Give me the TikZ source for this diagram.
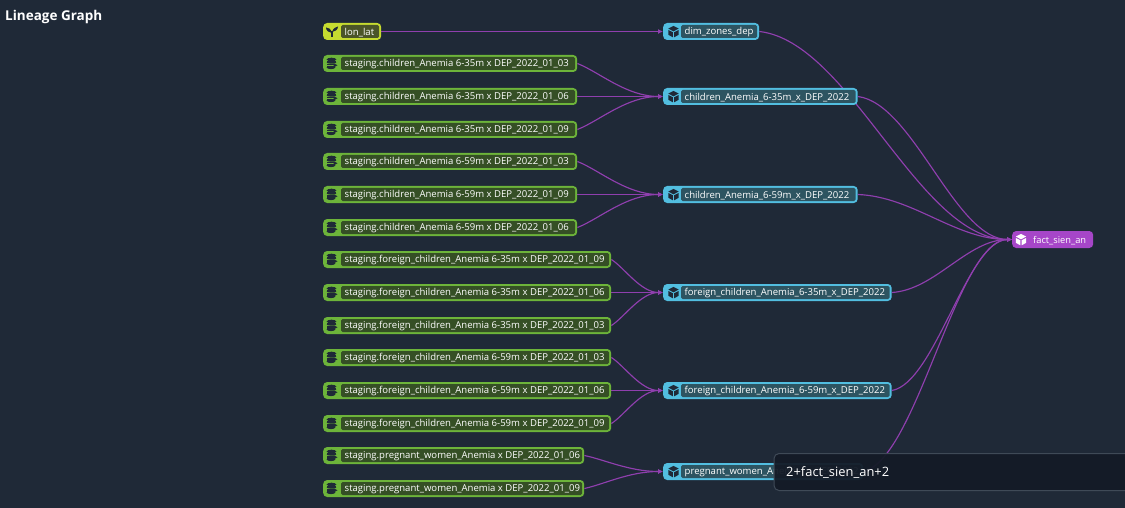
\documentclass[tikz,border=0pt]{standalone}
\usepackage{fontspec}
\setmainfont{Open Sans}
\usetikzlibrary{calc,arrows.meta}
\definecolor{bgc}{HTML}{1F2937}
\definecolor{edgec}{HTML}{8F3FAE}
\definecolor{srcf}{HTML}{6DB43A}
\definecolor{srci}{HTML}{354F25}
\definecolor{seedf}{HTML}{C6DB30}
\definecolor{seedi}{HTML}{4B5528}
\definecolor{modf}{HTML}{52BEE0}
\definecolor{modi}{HTML}{2D5461}
\definecolor{factf}{HTML}{A646C8}
\definecolor{tipf}{HTML}{141B27}
\definecolor{tipd}{HTML}{3F4A57}
\definecolor{icond}{HTML}{1F2937}
\pgfdeclarelayer{bglayer}
\pgfsetlayers{bglayer,main}
\tikzset{
  gbox/.style={rectangle,rounded corners=4pt,inner sep=0pt,minimum height=17pt,anchor=west,draw=none},
  srcbox/.style={gbox,fill=srcf},
  seedbox/.style={gbox,fill=seedf},
  modbox/.style={gbox,fill=modf},
  factbox/.style={gbox,fill=factf},
  lab/.style={rectangle,rounded corners=1.5pt,inner sep=0pt,minimum height=13pt,anchor=west},
  txt/.style={inner sep=0pt,anchor=west,text=white,font=\fontsize{9.55pt}{11pt}\selectfont},
  conn/.style={draw=edgec,line width=1.15pt,-{Latex[length=5pt,width=5pt]}},
}
% #1 name, #2 box style, #3 inner colour, #4 left, #5 width, #6 y, #7 text
\newcommand{\gnode}[7]{%
  \node[#2,minimum width=#5pt] (#1) at (#4,#6) {};
  \node[lab,fill=#3,minimum width=#5pt-20pt] (#1-l) at (#4+18,#6) {};
  \node[txt] (#1-t) at (#4+21.5,#6+0.8) {#7};
}
\newcommand{\dbicon}[2]{%
  \begin{scope}[shift={(#1,#2)},fill=icond]
    \fill (0,-4) ellipse (4.8pt and 1.8pt);
    \fill (-4.8,-2.6) rectangle (4.8,-1);
    \fill (0,-1) ellipse (4.8pt and 1.2pt);
    \fill (-4.8,0.3) rectangle (2,2);
    \fill (-4.8,2.8) rectangle (2,4);
    \fill (-0.5,4) ellipse (4.3pt and 1.6pt);
    \fill (2,-0.4) -- (6,1.8) -- (2,4) -- cycle;
  \end{scope}}
\newcommand{\cubeicon}[3]{%
  \begin{scope}[shift={(#1,#2)},fill=#3,draw=#3]
    \fill (0,-5.6) -- (5.2,-2.9) -- (0,-0.2) -- (-5.2,-2.9) -- cycle;
    \fill (-5.2,-1.6) -- (-0.6,0.8) -- (-0.6,5.8) -- (-5.2,3.3) -- cycle;
    \fill (5.2,-1.6) -- (0.6,0.8) -- (0.6,5.8) -- (5.2,3.3) -- cycle;
  \end{scope}}
\newcommand{\seedicon}[2]{%
  \begin{scope}[shift={(#1,#2)},fill=icond]
    \fill (-0.8,5.5) rectangle (0.8,0);
    \fill (0,1.5) .. controls (-1,-3) and (-4,-4) .. (-6,-4) .. controls (-6,-1) and (-3,1.5) .. (0,1.5);
    \fill (0,0.5) .. controls (1,-3) and (4,-5) .. (6,-5) .. controls (6,-2) and (3,0.5) .. (0,0.5);
  \end{scope}}
% #3,#4: first control as fractions of dx,dy from the start; #5: second control as fraction of dx back from the end
\newcommand{\link}[5]{%
  \draw[conn] let \p1=(#1.east),\p2=(#2.west),\n1={\x2-\x1},\n2={\y2-\y1} in
    (\p1) .. controls ({\x1+#3*\n1},{\y1+#4*\n2}) and ({\x2-#5*\n1},\y2) .. (\p2);
}
\newcommand{\shortlink}[2]{\link{#1}{#2}{0.25}{0.25}{0.43}}
\newcommand{\longlink}[2]{\link{#1}{#2}{0.36}{0.05}{0.37}}
\begin{document}
\begin{tikzpicture}[x=1pt,y=-1pt]
\useasboundingbox (0,0) rectangle (1125,508);
\begin{pgfonlayer}{bglayer}
  \fill[bgc] (0,0) rectangle (1125,508);
\end{pgfonlayer}
\node[inner sep=0pt,anchor=west,text=white,font=\fontsize{13.5pt}{15pt}\selectfont\bfseries] (title) at (5,16.5) {Lineage Graph};

\gnode{a0}{seedbox}{seedi}{323}{58}{31.5}{lon\_lat}
\gnode{a1}{srcbox}{srci}{323}{254}{63.5}{staging.children\_Anemia 6-35m x DEP\_2022\_01\_03}
\gnode{a2}{srcbox}{srci}{323}{254}{96.5}{staging.children\_Anemia 6-35m x DEP\_2022\_01\_06}
\gnode{a3}{srcbox}{srci}{323}{254}{129.5}{staging.children\_Anemia 6-35m x DEP\_2022\_01\_09}
\gnode{a4}{srcbox}{srci}{323}{254}{161.5}{staging.children\_Anemia 6-59m x DEP\_2022\_01\_03}
\gnode{a5}{srcbox}{srci}{323}{254}{194.5}{staging.children\_Anemia 6-59m x DEP\_2022\_01\_09}
\gnode{a6}{srcbox}{srci}{323}{254}{227.5}{staging.children\_Anemia 6-59m x DEP\_2022\_01\_06}
\gnode{a7}{srcbox}{srci}{323}{288}{259.5}{staging.foreign\_children\_Anemia 6-35m x DEP\_2022\_01\_09}
\gnode{a8}{srcbox}{srci}{323}{288}{292.5}{staging.foreign\_children\_Anemia 6-35m x DEP\_2022\_01\_06}
\gnode{a9}{srcbox}{srci}{323}{288}{325.5}{staging.foreign\_children\_Anemia 6-35m x DEP\_2022\_01\_03}
\gnode{a10}{srcbox}{srci}{323}{288}{357.5}{staging.foreign\_children\_Anemia 6-59m x DEP\_2022\_01\_03}
\gnode{a11}{srcbox}{srci}{323}{288}{390.5}{staging.foreign\_children\_Anemia 6-59m x DEP\_2022\_01\_06}
\gnode{a12}{srcbox}{srci}{323}{288}{423.5}{staging.foreign\_children\_Anemia 6-59m x DEP\_2022\_01\_09}
\gnode{a13}{srcbox}{srci}{323}{261}{455.5}{staging.pregnant\_women\_Anemia x DEP\_2022\_01\_06}
\gnode{a14}{srcbox}{srci}{323}{261}{488.5}{staging.pregnant\_women\_Anemia x DEP\_2022\_01\_09}

\gnode{b0}{modbox}{modi}{663}{96}{31.5}{dim\_zones\_dep}
\gnode{b1}{modbox}{modi}{663}{194.5}{96.5}{children\_Anemia\_6-35m\_x\_DEP\_2022}
\gnode{b2}{modbox}{modi}{663}{194.5}{194.5}{children\_Anemia\_6-59m\_x\_DEP\_2022}
\gnode{b3}{modbox}{modi}{663}{228.5}{292.5}{foreign\_children\_Anemia\_6-35m\_x\_DEP\_2022}
\gnode{b4}{modbox}{modi}{663}{228.5}{390.5}{foreign\_children\_Anemia\_6-59m\_x\_DEP\_2022}
\gnode{b5}{modbox}{modi}{663}{200}{471.5}{pregnant\_women\_Anemia\_x\_DEP\_2022}

\node[gbox,fill=factf,minimum width=81pt] (c) at (1012,239.5) {};
\node[txt,font=\fontsize{9.3pt}{11pt}\selectfont] (c-t) at (1033,240.3) {fact\_sien\_an};

\seedicon{332}{31.5}
\foreach \yy in {63.5,96.5,129.5,161.5,194.5,227.5,259.5,292.5,325.5,357.5,390.5,423.5,455.5,488.5} {\dbicon{331.5}{\yy}}
\foreach \yy in {31.5,96.5,194.5,292.5,390.5,471.5} {\cubeicon{673.5}{\yy}{icond}}
\cubeicon{1021}{239.5}{white}

\begin{pgfonlayer}{bglayer}
  \longlink{a0}{b0}
  \shortlink{a1}{b1}\shortlink{a2}{b1}\shortlink{a3}{b1}
  \shortlink{a4}{b2}\shortlink{a5}{b2}\shortlink{a6}{b2}
  \shortlink{a7}{b3}\shortlink{a8}{b3}\shortlink{a9}{b3}
  \shortlink{a10}{b4}\shortlink{a11}{b4}\shortlink{a12}{b4}
  \shortlink{a13}{b5}\shortlink{a14}{b5}
  \longlink{b0}{c}\longlink{b1}{c}\longlink{b2}{c}\longlink{b3}{c}\longlink{b4}{c}\longlink{b5}{c}
\end{pgfonlayer}

\node[rectangle,rounded corners=5pt,anchor=west,inner sep=0pt,fill=tipf,fill opacity=0.95,draw=tipd,line width=1pt,minimum width=362pt,minimum height=37pt] (tip) at (773.5,472) {};
\node[inner sep=0pt,anchor=west,text=white,font=\fontsize{12.9pt}{15pt}\selectfont] (tip-t) at (786,473) {2+fact\_sien\_an+2};
\end{tikzpicture}
\end{document}
